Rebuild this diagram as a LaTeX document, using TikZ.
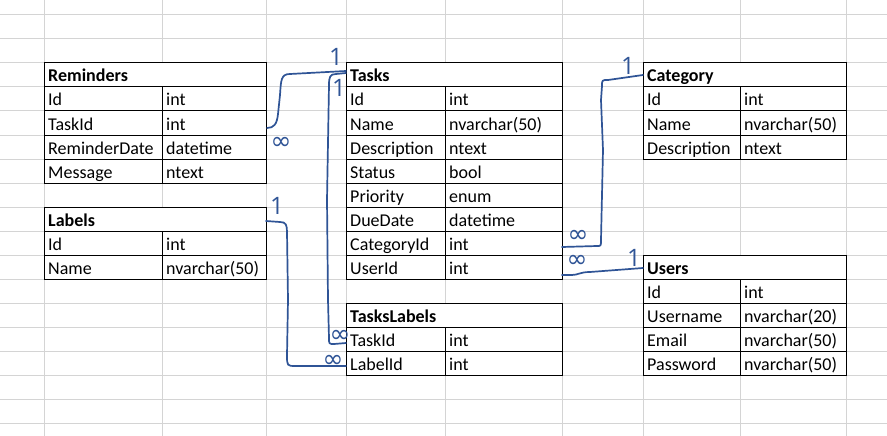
\documentclass[tikz,border=0pt]{standalone}
\usepackage{fontspec}
\setmainfont{Carlito}
\newfontfamily\penfont{Open Sans}
\newfontfamily\symfont{DejaVu Sans}
\usetikzlibrary{calc}
\definecolor{gridc}{RGB}{212,212,212}
\definecolor{pen}{RGB}{47,84,150}
\tikzset{
 cell/.style={draw=black, fill=white, line width=1pt, anchor=north west, minimum height=24pt, inner sep=0pt, outer sep=0pt},
 txt/.style={anchor=base west, inner sep=0pt, font=\fontsize{18}{20}\selectfont},
 gridline/.style={draw=gridc, line width=1pt},
 hand/.style={draw=pen, line width=1.7pt, line cap=round, line join=round},
 one/.style={text=pen, font=\penfont\fontsize{24}{26}\selectfont, inner sep=0pt},
 many/.style={text=pen, inner sep=0pt, text height=12pt, text depth=-4pt, font=\symfont\fontsize{25}{26}\selectfont},
}
\newcommand{\tcell}[5]{%
 \node[cell, minimum width=#4pt] (#1) at (#2,#3) {};
 \node[txt] (#1-t) at ([xshift=4pt,yshift=-19pt]#1.north west) {#5};}
% \trow{name}{x}{y}{w1}{w2}{text1}{text2}
\newcommand{\trow}[7]{%
 \tcell{#1a}{#2}{#3}{#4}{#6}%
 \tcell{#1b}{#2+#4}{#3}{#5}{#7}}
\begin{document}
\begin{tikzpicture}[x=1pt, y=-1pt]
\useasboundingbox[fill=white] (0,0) rectangle (887,436);
% spreadsheet grid
\foreach \gx in {44,162,266,346,445,562,643,740,846} \draw[gridline] (\gx,0) -- (\gx,436);
\foreach \gy in {15,39,...,423} \draw[gridline] (0,\gy) -- (887,\gy);

% Reminders
\tcell{rem}{44}{63}{222}{\bfseries Reminders}
\trow{rem1}{44}{87}{118}{104}{Id}{int}
\trow{rem2}{44}{111}{118}{104}{TaskId}{int}
\trow{rem3}{44}{135}{118}{104}{ReminderDate}{datetime}
\trow{rem4}{44}{159}{118}{104}{Message}{ntext}

% Labels
\tcell{lab}{44}{207}{222}{\bfseries Labels}
\trow{lab1}{44}{231}{118}{104}{Id}{int}
\trow{lab2}{44}{255}{118}{104}{Name}{nvarchar(50)}

% Tasks
\tcell{tsk}{346}{63}{216}{\bfseries Tasks}
\trow{tsk1}{346}{87}{99}{117}{Id}{int}
\trow{tsk2}{346}{111}{99}{117}{Name}{nvarchar(50)}
\trow{tsk3}{346}{135}{99}{117}{Description}{ntext}
\trow{tsk4}{346}{159}{99}{117}{Status}{bool}
\trow{tsk5}{346}{183}{99}{117}{Priority}{enum}
\trow{tsk6}{346}{207}{99}{117}{DueDate}{datetime}
\trow{tsk7}{346}{231}{99}{117}{CategoryId}{int}
\trow{tsk8}{346}{255}{99}{117}{UserId}{int}

% TasksLabels
\tcell{tl}{346}{303}{216}{\bfseries TasksLabels}
\trow{tl1}{346}{327}{99}{117}{TaskId}{int}
\trow{tl2}{346}{351}{99}{117}{LabelId}{int}

% Category
\tcell{cat}{643}{63}{203}{\bfseries Category}
\trow{cat1}{643}{87}{97}{106}{Id}{int}
\trow{cat2}{643}{111}{97}{106}{Name}{nvarchar(50)}
\trow{cat3}{643}{135}{97}{106}{Description}{ntext}

% Users
\tcell{usr}{643}{255}{203}{\bfseries Users}
\trow{usr1}{643}{279}{97}{106}{Id}{int}
\trow{usr2}{643}{303}{97}{106}{Username}{nvarchar(20)}
\trow{usr3}{643}{327}{97}{106}{Email}{nvarchar(50)}
\trow{usr4}{643}{351}{97}{106}{Password}{nvarchar(50)}

% hand-drawn connectors
\draw[hand] ([shift={(1,5)}]rem2b.east) .. controls (274,128) and (277,124) .. (278,114)
  -- (280,95) .. controls (281,80) and (281,74) .. (290,74) -- ([yshift=4pt]tsk.west);
\draw[hand] ([yshift=2pt]tsk.west) -- (336,74) .. controls (330,74) and (329,77) .. (329,85)
  -- (327,200) -- (328,300) -- (329,338) .. controls (329,344) .. (334,344) -- ([yshift=-4pt]tl1a.west);
\draw[hand] ([yshift=-2pt]lab.east) -- (280,222) .. controls (286,222) and (287,225) .. (287,232)
  -- (288,300) -- (287,355) .. controls (287,366) .. (296,366) -- ([yshift=-3pt]tl2a.west);
\draw[hand] ([yshift=-4pt]tsk7b.east) -- (597,246) .. controls (601,246) .. (601,240)
  -- (603,150) -- (601,100) -- (602,86) .. controls (602,80) .. (608,80) -- (cat.west);
\draw[hand] ([yshift=-8pt]tsk8b.east) -- (572,275) .. controls (578,275) and (580,272) .. (590,272)
  -- ([yshift=-1pt]usr.west);

% cardinality marks
\node[one] (o1) at (336,57) {1};
\node[one] (o2) at (339,88) {1};
\node[one] (o3) at (277,206) {1};
\node[one] (o4) at (628,66) {1};
\node[one] (o5) at (634,258) {1};
\node[many] (m1) at (281,143) {∞};
\node[many] (m2) at (340,336) {∞};
\node[many] (m3) at (333,361) {∞};
\node[many] (m4) at (578,236) {∞};
\node[many] (m5) at (577,261) {∞};
\end{tikzpicture}
\end{document}
